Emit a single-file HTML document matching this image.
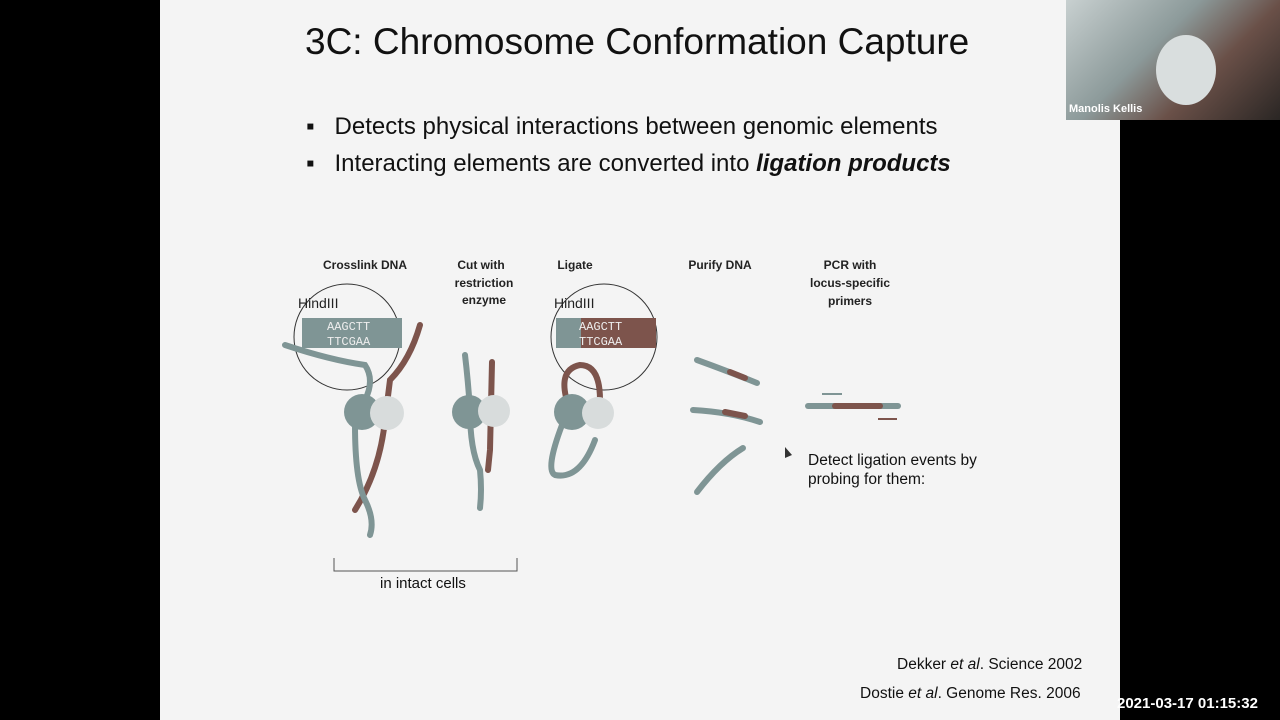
<!DOCTYPE html>
<html><head><meta charset="utf-8">
<style>
body{margin:0;width:1280px;height:720px;background:#000;position:relative;overflow:hidden;font-family:"Liberation Sans",sans-serif}
#slide{position:absolute;left:160px;top:0;width:960px;height:720px;background:#f4f4f4}
.t{position:absolute;white-space:nowrap;color:#111}
</style></head><body>
<div id="slide">
<div class="t" style="left:145px;top:21px;font-size:37px">3C: Chromosome Conformation Capture</div>
<div class="t" style="left:146px;top:113px;font-size:24px">▪&nbsp;&nbsp;&nbsp;Detects physical interactions between genomic elements</div>
<div class="t" style="left:146px;top:150px;font-size:24px">▪&nbsp;&nbsp;&nbsp;Interacting elements are converted into <b><i>ligation products</i></b></div>
<div class="t" style="left:648px;top:451px;font-size:15.5px;line-height:19px">Detect ligation events by<br>probing for them:</div>
<div class="t" style="left:220px;top:575px;font-size:15px">in intact cells</div>
<div class="t" style="left:737px;top:656px;font-size:15.5px">Dekker <i>et al</i>. Science 2002</div>
<div class="t" style="left:700px;top:685px;font-size:15.5px">Dostie <i>et al</i>. Genome Res. 2006</div>
</div>
<svg width="1280" height="720" style="position:absolute;left:0;top:0" font-family="Liberation Sans, sans-serif">
<g font-size="12" font-weight="bold" fill="#222" text-anchor="middle">
<text x="365" y="269">Crosslink DNA</text>
<text x="481" y="269">Cut with</text><text x="484" y="287">restriction</text><text x="484" y="304">enzyme</text>
<text x="575" y="269">Ligate</text>
<text x="720" y="269">Purify DNA</text>
<text x="850" y="269">PCR with</text><text x="850" y="287">locus-specific</text><text x="850" y="305">primers</text>
</g>
<g fill="none" stroke="#333" stroke-width="1">
<circle cx="347" cy="337" r="53"/><circle cx="604" cy="337" r="53"/>
</g>
<rect x="302" y="318" width="100" height="30" fill="#7f9595"/>
<rect x="556" y="318" width="25" height="30" fill="#7f9595"/><rect x="581" y="318" width="75" height="30" fill="#7d544c"/>
<g font-family="Liberation Mono, monospace" font-size="12" fill="#eee">
<text x="327" y="330">AAGCTT</text><text x="327" y="345">TTCGAA</text>
<text x="579" y="330">AAGCTT</text><text x="579" y="345">TTCGAA</text>
</g>
<g font-size="14" fill="#222"><text x="298" y="308">HindIII</text><text x="554" y="308">HindIII</text></g>
<g fill="none" stroke-width="6" stroke-linecap="round">
<path d="M285 345 Q330 360 365 365 Q375 380 365 400" stroke="#7f9595"/>
<path d="M420 325 Q410 360 390 380 L385 420 Q380 470 355 510" stroke="#7d544c"/>
<path d="M355 425 Q355 480 365 500 Q375 520 370 535" stroke="#7f9595"/>
<path d="M465 355 Q468 380 470 410 Q470 450 480 470 Q482 490 480 508" stroke="#7f9595"/>
<path d="M492 362 L490 450 L488 470" stroke="#7d544c"/>
<path d="M570 410 Q555 370 580 365 Q600 365 600 400" stroke="#7d544c"/>
<path d="M562 425 Q545 470 555 475 Q580 480 595 440" stroke="#7f9595"/>
<path d="M697 360 Q730 372 757 383" stroke="#7f9595"/><path d="M730 372 L745 378" stroke="#7d544c"/>
<path d="M693 410 Q730 412 760 422" stroke="#7f9595"/><path d="M725 412 L745 416" stroke="#7d544c"/>
<path d="M697 492 Q720 462 743 448" stroke="#7f9595"/>
<path d="M808 406 L898 406" stroke="#7f9595"/><path d="M835 406 L880 406" stroke="#7d544c"/>
</g>
<g stroke-width="2"><path d="M822 394 L842 394" stroke="#7f9595"/><path d="M878 419 L897 419" stroke="#7d544c"/></g>
<g>
<circle cx="362" cy="412" r="18" fill="#7f9595"/><circle cx="387" cy="413" r="17" fill="#d8dcdc"/>
<circle cx="469" cy="412" r="17" fill="#7f9595"/><circle cx="494" cy="411" r="16" fill="#d8dcdc"/>
<circle cx="572" cy="412" r="18" fill="#7f9595"/><circle cx="598" cy="413" r="16" fill="#d8dcdc"/>
</g>
<path d="M334 558 L334 571 L517 571 L517 558" fill="none" stroke="#555"/>
<path d="M785 447 L785 458 L792 455 Z" fill="#333"/>
</svg>
<div style="position:absolute;left:1066px;top:0;width:214px;height:120px;background:linear-gradient(135deg,#c8d0d0 0%,#8c9a9a 40%,#6a5048 65%,#2a2624 100%)">
<div style="position:absolute;left:90px;top:35px;width:60px;height:70px;border-radius:50%;background:#d9dede"></div>
<div class="t" style="left:3px;top:103px;font-size:11px;font-weight:bold;color:#fff">Manolis Kellis</div>
</div>
<div class="t" style="left:1117px;top:695px;font-size:15px;font-weight:bold;color:#fff">2021-03-17 01:15:32</div>
</body></html>
